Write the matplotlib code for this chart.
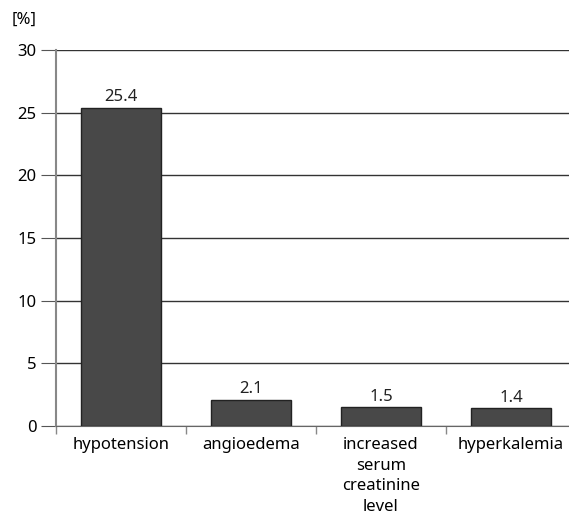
import numpy as np
import matplotlib.pyplot as plt

categories = ['hypotension', 'angioedema', 'increased\nserum\ncreatinine\nlevel', 'hyperkalemia']
values = [25.4, 2.1, 1.5, 1.4]
labels = ['25.4', '2.1', '1.5', '1.4']

plt.rcParams['font.family'] = ['Noto Sans', 'DejaVu Sans']

W, H = 569, 515
fs = 12
fig = plt.figure(figsize=(W / 100, H / 100), dpi=100)
ax = fig.add_axes([56 / W, (H - 426) / H, 520 / W, 376 / H])

x = np.arange(len(values))
ax.bar(x, values, width=0.61, color='#484848', edgecolor='#222222', linewidth=1, zorder=3)

for xi, v, lab in zip(x, values, labels):
    ax.text(xi, v + 0.2, lab, ha='center', va='bottom', fontsize=fs, color='#222222')

ax.set_xlim(-0.5, 3.5)
ax.set_ylim(0, 30)
ax.set_yticks(range(0, 31, 5))
ax.yaxis.grid(True, color='#333333', linewidth=1, zorder=0)

ax.set_xticks(x)
ax.set_xticklabels(categories, fontsize=fs, linespacing=1.38)
ax.set_xticks([-0.5, 0.5, 1.5, 2.5], minor=True)
ax.tick_params(axis='x', which='major', length=0, pad=8)
ax.tick_params(axis='x', which='minor', length=6, color='#888888', width=1)
ax.tick_params(axis='y', length=11, color='#555555', labelsize=fs, pad=3)

for s in ['top', 'right']:
    ax.spines[s].set_visible(False)
ax.spines['left'].set_color('#888888')
ax.spines['left'].set_linewidth(1.5)
ax.spines['bottom'].set_color('#666666')

fig.text(12 / W, 1 - 20 / H, '[%]', fontsize=fs, va='center', ha='left')

plt.savefig('out.png', dpi=100)
